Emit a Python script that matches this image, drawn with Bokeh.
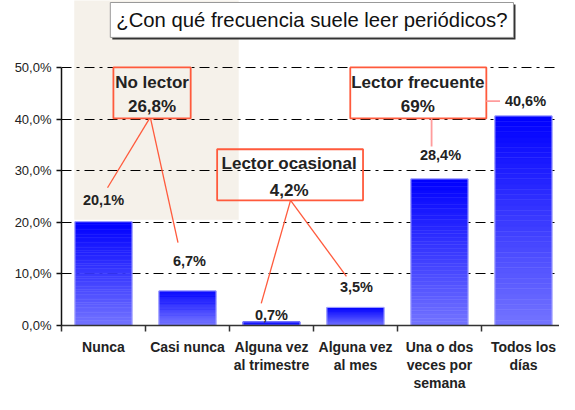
from bokeh.plotting import figure
from bokeh.models import Range1d, FixedTicker, ColumnDataSource
from bokeh.core.properties import value
from bokeh.embed import file_html
from bokeh.resources import INLINE

# ---------------- data ----------------
categories = ["Nunca", "Casi nunca", "Alguna vez\nal trimestre", "Alguna vez\nal mes",
              "Una o dos\nveces por\nsemana", "Todos los\ndías"]
values = [20.1, 6.7, 0.7, 3.5, 28.4, 40.6]
value_labels = ["20,1%", "6,7%", "0,7%", "3,5%", "28,4%", "40,6%"]
y_ticks = [0, 10, 20, 30, 40, 50]
y_tick_labels = ["0,0%", "10,0%", "20,0%", "30,0%", "40,0%", "50,0%"]
group_names = ["No lector", "Lector ocasional", "Lector frecuente"]
group_values = ["26,8%", "4,2%", "69%"]
title_text = "¿Con qué frecuencia suele leer periódicos?"

# ---------------- style ----------------
FONT = value("Liberation Sans")
label_dx = [0, 2, 0, 1, 1, 2]        # px
label_dy = [-22, -30, -7, -20, -24, -15]  # px (negative = up)
BAR_W = 0.68
N_SLICES = 40
C_BOTTOM = (0x74, 0x74, 0xFF)
C_TOP = (0x00, 0x00, 0xFF)
BOX_RED = "#FF5A3C"
PINK = "#FF9C9C"

p = figure(width=559, height=394, output_backend="svg", toolbar_location=None,
           x_range=Range1d(0, 5.929), y_range=Range1d(0, 62.96),
           min_border_left=61, min_border_right=0, min_border_top=0, min_border_bottom=66)
p.outline_line_color = None
p.background_fill_color = "white"
p.border_fill_color = "white"

# faded background photo
bg = p.quad(left=[0.152], right=[2.11], bottom=[20.5], top=[63.5],
            fill_color="#f5f1ea", line_color=None)
bg.level = "image"

# grid
p.xgrid.visible = False
p.ygrid.ticker = FixedTicker(ticks=y_ticks[1:])
p.ygrid.grid_line_color = "black"
p.ygrid.grid_line_dash = "10 5 3 5"
p.ygrid.grid_line_width = 1

# y axis
yax = p.yaxis[0]
yax.ticker = FixedTicker(ticks=y_ticks)
yax.major_label_overrides = {t: l for t, l in zip(y_ticks, y_tick_labels)}
yax.bounds = (0, 50)
yax.axis_line_color = "#111"
yax.axis_line_width = 1.5
yax.major_tick_line_color = "#111"
yax.major_tick_line_width = 1.5
yax.major_tick_out = 5
yax.major_tick_in = 0
yax.minor_tick_line_color = None
yax.major_label_standoff = 5
yax.major_label_text_font = "Liberation Sans"
yax.major_label_text_font_size = "13px"
yax.major_label_text_color = "#222"

# x axis
xs = [i + 0.5 for i in range(len(categories))]
xax = p.xaxis[0]
xax.ticker = FixedTicker(ticks=xs, minor_ticks=list(range(len(categories) + 1)))
xax.major_label_overrides = {x: c for x, c in zip(xs, categories)}
xax.axis_line_color = "#333"
xax.axis_line_width = 1.5
xax.major_tick_line_color = None
xax.major_tick_out = 0
xax.major_tick_in = 0
xax.minor_tick_line_color = "#333"
xax.minor_tick_line_width = 1.5
xax.minor_tick_out = 6
xax.minor_tick_in = 0
xax.major_label_standoff = 7
xax.major_label_text_font = "Liberation Sans"
xax.major_label_text_font_style = "bold"
xax.major_label_text_font_size = "14px"
xax.major_label_text_color = "#222"
xax.major_label_text_line_height = 1.15

# gradient bars (each bar split into thin slices from its own value)
L, R, B, T, C = [], [], [], [], []
for x, v in zip(xs, values):
    for k in range(N_SLICES):
        t = (k + 0.5) / N_SLICES
        col = tuple(int(round(C_BOTTOM[j] + (C_TOP[j] - C_BOTTOM[j]) * t)) for j in range(3))
        L.append(x - BAR_W / 2)
        R.append(x + BAR_W / 2)
        B.append(v * k / N_SLICES)
        T.append(v * (k + 1) / N_SLICES)
        C.append("#%02x%02x%02x" % col)
p.quad(left=L, right=R, bottom=B, top=T, fill_color=C, line_color=C, line_width=0.5)
p.vbar(x=xs, top=values, width=BAR_W, fill_color=None, line_color="#a8a8ff", line_width=1)

# value labels
src = ColumnDataSource(dict(x=xs, y=values, text=value_labels, dx=label_dx, dy=label_dy))
p.text(x="x", y="y", text="text", x_offset="dx", y_offset="dy", source=src,
       text_font=FONT, text_font_size=value("14.5px"), text_font_style="bold",
       text_align="center", text_baseline="middle", text_color="#222")

# group boxes (layout positions in data units)
box_left = [0.618, 1.853, 3.438]
box_right = [1.538, 3.590, 5.058]
box_top = [50.0, 34.14, 50.0]
box_bottom = [40.11, 24.25, 40.11]
box_cx = [1.078, 2.71, 4.242]
name_y = [47.01, 31.34, 47.01]
val_y = [42.45, 26.12, 42.40]
p.quad(left=box_left, right=box_right, top=box_top, bottom=box_bottom,
       fill_color=None, line_color=BOX_RED, line_width=1.8)
p.text(x=box_cx, y=name_y, text=group_names, text_font=FONT, text_font_size=value("17px"),
       text_font_style="bold", text_align="center", text_baseline="middle", text_color="#222")
p.text(x=box_cx, y=val_y, text=group_values, text_font=FONT, text_font_size=value("17px"),
       text_font_style="bold", text_align="center", text_baseline="middle", text_color="#222")

# leader lines
p.segment(x0=[1.049, 1.06, 2.727, 2.727], y0=[40.11, 40.11, 24.25, 24.25],
          x1=[0.548, 1.387, 2.378, 3.392], y1=[26.68, 16.04, 4.29, 9.51],
          line_color=BOX_RED, line_width=1.3)
p.segment(x0=[4.406, 5.058], y0=[40.11, 43.47], x1=[4.406, 5.221], y1=[34.70, 43.47],
          line_color=PINK, line_width=1.8)

# title box
p.quad(left=[0.605], right=[5.405], top=[62.19], bottom=[55.42], fill_color="#333", line_color=None)
p.quad(left=[0.581], right=[5.381], top=[62.57], bottom=[55.81], fill_color="white",
       line_color="#999", line_width=1)
p.text(x=[2.981], y=[59.1], text=[title_text], text_font=FONT, text_font_size=value("20.3px"),
       text_align="center", text_baseline="middle", text_color="#111")

open("out.html", "w").write(file_html(p, INLINE))
